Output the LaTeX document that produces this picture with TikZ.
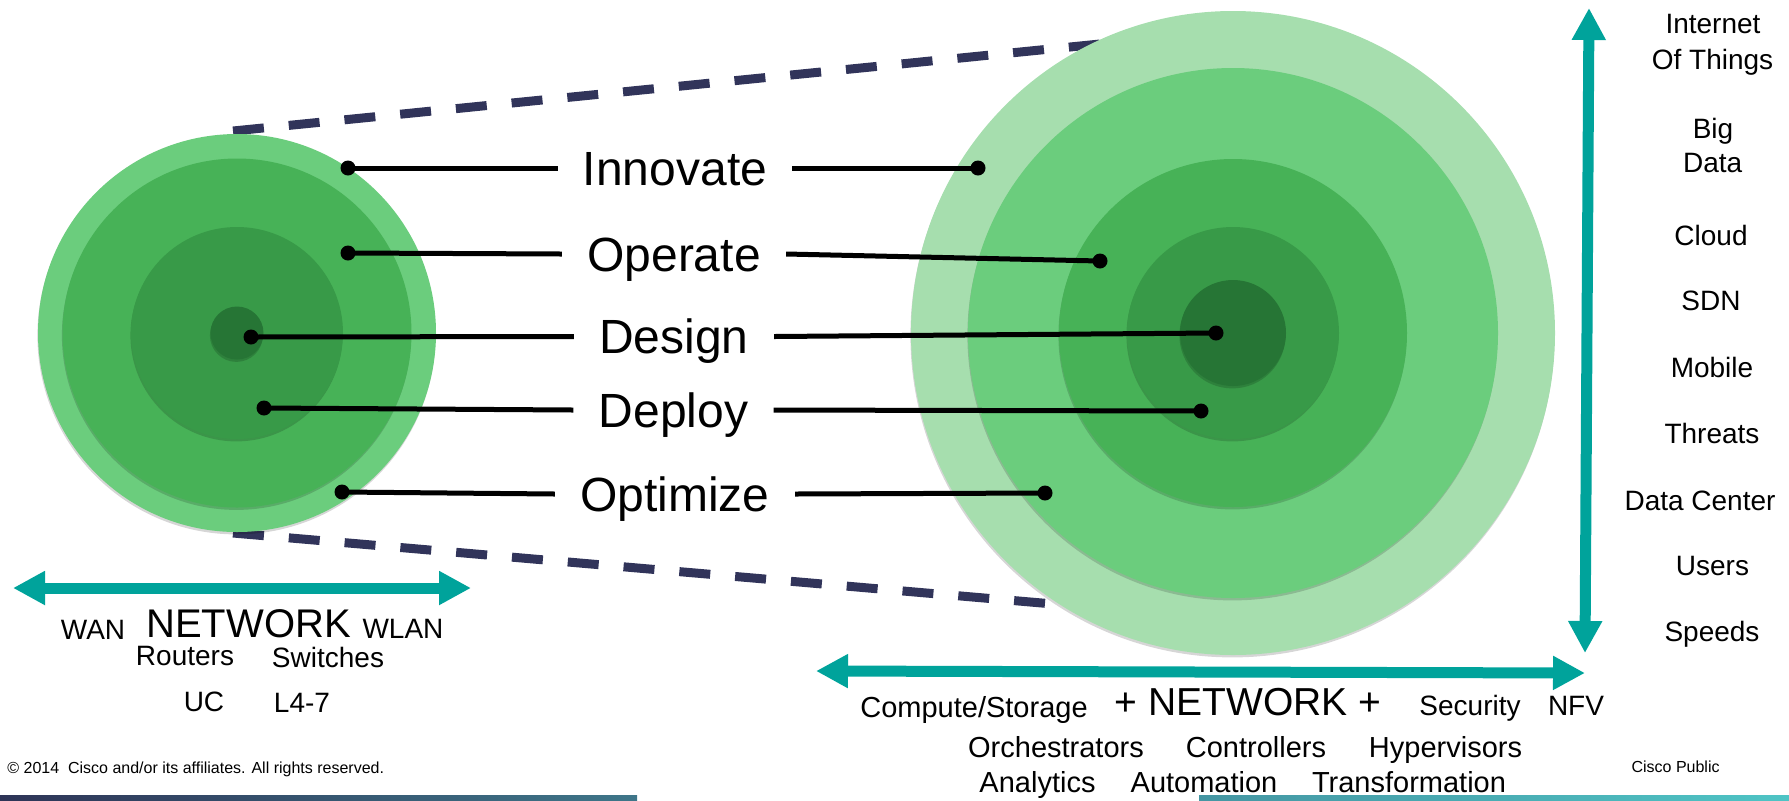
\documentclass[tikz,border=0pt]{standalone}
\usepackage{fontspec}
\setmainfont{Liberation Sans}
\usetikzlibrary{arrows.meta,shadows}
\definecolor{g0}{HTML}{A6DEAE}
\definecolor{g1}{HTML}{6BCD7D}
\definecolor{g2}{HTML}{47B257}
\definecolor{g3}{HTML}{389A48}
\definecolor{g4}{HTML}{267535}
\definecolor{navy}{HTML}{31345A}
\definecolor{tealc}{HTML}{00A39B}
\definecolor{barA}{HTML}{2E3457}
\definecolor{barB}{HTML}{3E7689}
\definecolor{barC}{HTML}{4596A3}
\definecolor{barD}{HTML}{4EC4C5}
\begin{document}
\begin{tikzpicture}[x=0.5pt,y=-0.5pt,
  ring/.style={circle,inner sep=0pt,draw=none,
    drop shadow={shadow xshift=-0.3pt,shadow yshift=-1.2pt,opacity=0.16,fill=black}},
  conn/.style={line width=2.5pt,black},
  dashln/.style={line width=4.5pt,navy,dash pattern=on 15.5pt off 12.5pt},
  tealarrow/.style={line width=5.5pt,tealc,{Triangle[length=16pt,width=16pt]}-{Triangle[length=16pt,width=16pt]}},
  biglbl/.style={font=\fontsize{24}{28}\selectfont,text height=17.2pt,text depth=0pt,inner xsep=12.5pt,inner ysep=0pt},
  col/.style={font=\fontsize{14}{17}\selectfont,anchor=base,inner sep=0pt},
  colb/.style={font=\fontsize{14.5}{17}\selectfont,anchor=base,inner sep=0pt},
  netw/.style={font=\fontsize{20}{24}\selectfont,anchor=base,inner sep=0pt},
  small/.style={font=\fontsize{8}{10}\selectfont,anchor=base,inner sep=0pt}]
\useasboundingbox (0,0) rectangle (1789,800);

% dashed perspective lines (behind circles)
\coordinate (tl) at (233,131);
\coordinate (tr) at (1100,44);
\coordinate (bl) at (233,533);
\coordinate (br) at (1065,605);
\draw[dashln] (tl) -- (tr);
\draw[dashln] (bl) -- (br);

% left circles
\node[ring,fill=g1,minimum size=199pt] (L0) at (237,333) {};
\node[ring,fill=g2,minimum size=174.5pt] (L1) at (237,333) {};
\node[ring,fill=g3,minimum size=106pt] (L2) at (237,333) {};
\node[ring,fill=g4,minimum size=26.5pt] (L3) at (237,333) {};

% right circles
\node[ring,fill=g0,minimum size=322pt] (R0) at (1233,333) {};
\node[ring,fill=g1,minimum size=265pt] (R1) at (1233,333) {};
\node[ring,fill=g2,minimum size=174pt] (R2) at (1233,333) {};
\node[ring,fill=g3,minimum size=106pt] (R3) at (1233,333) {};
\node[ring,fill=g4,minimum size=53pt] (R4) at (1233,333) {};

% dots
\coordinate (dIl) at (348,168);
\coordinate (dOl) at (348,253);
\coordinate (dDl) at (251,337);
\coordinate (dPl) at (264,408);
\coordinate (dZl) at (342,492);
\coordinate (dIr) at (978,168);
\coordinate (dOr) at (1100,261);
\coordinate (dDr) at (1216,333);
\coordinate (dPr) at (1201,411);
\coordinate (dZr) at (1045,493);

% labels
\node[biglbl] (innovate) at (675,168) {Innovate};
\node[biglbl] (operate) at (674,254) {Operate};
\node[biglbl] (design) at (674,336.5) {Design};
\node[biglbl] (deploy) at (673.5,410) {Deploy};
\node[biglbl] (optimize) at (675,494) {Optimize};

\draw[conn] (dIl) -- (innovate.west);
\draw[conn] (innovate.east) -- (dIr);
\draw[conn] (dOl) -- (operate.west);
\draw[conn] (operate.east) -- (dOr);
\draw[conn] (dDl) -- (design.west);
\draw[conn] (design.east) -- (dDr);
\draw[conn] (dPl) -- (deploy.west);
\draw[conn] (deploy.east) -- (dPr);
\draw[conn] (dZl) -- (optimize.west);
\draw[conn] (optimize.east) -- (dZr);

\foreach \p in {dIl,dOl,dDl,dPl,dZl,dIr,dOr,dDr,dPr,dZr}
  \fill[black] (\p) circle[radius=3.75pt];

% teal arrows
\coordinate (aL1) at (13,588);
\coordinate (aL2) at (471,588);
\coordinate (aB1) at (816,671);
\coordinate (aB2) at (1585,673);
\coordinate (aV1) at (1589,8);
\coordinate (aV2) at (1585,653);
\draw[tealarrow] (aL1) -- (aL2);
\draw[tealarrow] (aB1) -- (aB2);
\draw[tealarrow] (aV1) -- (aV2);

% left bottom labels
\node[col] (wan) at (93,639) {WAN};
\node[netw] (netL) at (248.5,637) {NETWORK};
\node[col] (wlan) at (403,638) {WLAN};
\node[col] (routers) at (185,665) {Routers};
\node[col] (switches) at (328,667) {Switches};
\node[col] (uc) at (204,711) {UC};
\node[col] (l47) at (302,712) {L4-7};

% right bottom labels
\node[colb] (compute) at (974,717) {Compute/Storage};
\node[font=\fontsize{19.5}{24}\selectfont,anchor=base,inner sep=0pt] (netR) at (1248,715) {+ NETWORK +};
\node[col] (security) at (1470,715) {Security};
\node[col] (nfv) at (1576,715) {NFV};
\node[colb] (orch) at (1056,757) {Orchestrators};
\node[colb] (ctrl) at (1256,757) {Controllers};
\node[colb] (hyper) at (1445.5,757) {Hypervisors};
\node[colb] (analytics) at (1037.5,792) {Analytics};
\node[colb] (autom) at (1204,792) {Automation};
\node[colb] (transf) at (1409,792) {Transformation};

% right column
\node[col] (c1a) at (1713,33.6) {Internet};
\node[col] (c1b) at (1712.5,69.2) {Of Things};
\node[col] (c2a) at (1713,138.4) {Big};
\node[col] (c2b) at (1712.7,172.8) {Data};
\node[col] (c3) at (1711,245) {Cloud};
\node[col] (c4) at (1711,310.4) {SDN};
\node[col] (c5) at (1712,377.6) {Mobile};
\node[col] (c6) at (1712,443.6) {Threats};
\node[col] (c7) at (1700,510) {Data Center};
\node[col] (c8) at (1712.5,575.3) {Users};
\node[col] (c9) at (1712,641) {Speeds};

% footer
\node[small,anchor=base west] (copy) at (7,773) {\textcopyright{} 2014\ \ Cisco and/or its affiliates. All rights reserved.};
\node[small] (public) at (1675.6,772) {Cisco Public};
\shade[left color=barA,right color=barB] (0,795) rectangle (637,800);
\shade[left color=barC,right color=barD] (1199,795) rectangle (1789,800);
\end{tikzpicture}
\end{document}
